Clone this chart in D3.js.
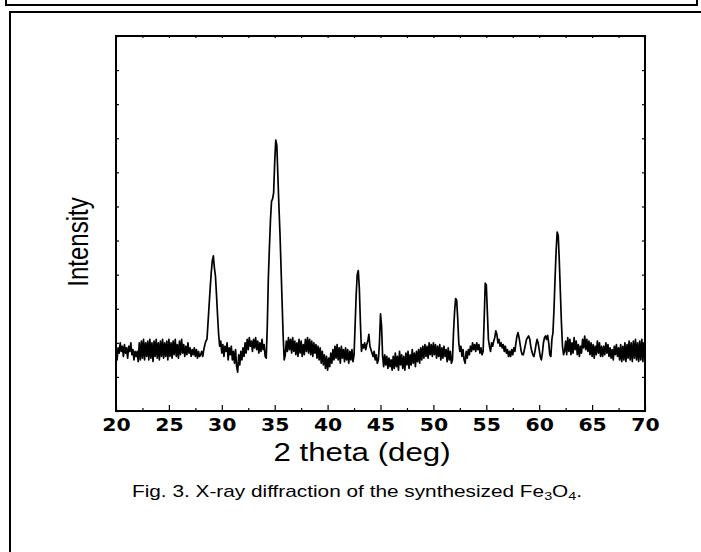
<!DOCTYPE html>
<html>
<head>
<meta charset="utf-8">
<script src="https://d3js.org/d3.v7.min.js"></script>
<style>
  body { margin: 0; background: #fff; }
  svg text { fill: #000; }
</style>
</head>
<body>
<div id="chartDiv"></div>
<script>

// scan: start angle, step, counts (one row per degree)
var startAngle = 20.0,
    stepAngle = 0.1;

var counts = [
  165,150,185,170,200,175,190,160,195,170,  // 20
  185,155,190,175,200,165,180,150,175,160,  // 21
  175,145,200,150,205,155,210,150,200,160,  // 22
  205,150,210,155,200,145,205,160,210,155,  // 23
  200,150,205,160,210,155,200,160,205,150,  // 24
  210,160,200,155,205,165,210,160,195,155,  // 25
  205,165,210,170,195,160,190,165,200,170,  // 26
  185,160,180,165,185,160,180,155,175,160,  // 27
  165,175,160,180,195,205,211,260,310,360,  // 28
  405,440,455,420,396,340,280,225,190,205,  // 29
  170,195,160,190,175,200,150,185,165,190,  // 30
  150,175,140,180,130,114,165,135,175,150,  // 31
  185,160,200,170,210,180,215,190,205,175,  // 32
  210,185,215,180,205,170,200,175,210,180,  // 33
  195,160,155,250,390,480,560,615,622,640,  // 34
  730,795,780,690,600,520,420,320,220,150,  // 35
  165,205,175,215,180,210,170,215,175,205,  // 36
  165,200,160,210,170,205,160,195,165,210,  // 37
  175,215,170,210,165,205,160,200,170,195,  // 38
  155,190,150,185,140,175,135,165,125,160,  // 39
  120,155,130,170,140,180,150,190,155,195,  // 40
  150,185,140,190,155,180,145,185,150,180,  // 41
  140,175,150,180,145,165,250,340,400,412,  // 42
  360,260,175,195,185,200,180,195,205,225,  // 43
  190,180,170,160,175,150,165,140,150,200,  // 44
  285,250,160,130,165,135,160,125,155,130,  // 45
  150,120,160,125,170,130,160,120,175,135,  // 46
  165,125,160,120,170,135,175,125,165,135,  // 47
  180,140,170,130,175,145,180,140,185,150,  // 48
  190,155,195,160,190,155,200,165,195,160,  // 49
  200,165,195,155,190,160,195,150,185,155,  // 50
  190,160,180,145,185,150,175,140,150,230,  // 51
  290,330,325,270,200,175,190,160,180,150,  // 52
  140,175,155,180,165,190,175,200,180,195,  // 53
  175,200,180,195,170,185,165,175,270,375,  // 54
  370,290,210,190,175,200,190,205,215,235,  // 55
  225,200,210,190,200,185,195,175,190,170,  // 56
  180,160,175,160,180,165,185,175,200,220,  // 57
  230,215,195,175,165,165,180,195,210,215,  // 58
  220,212,190,175,165,160,175,195,210,200,  // 59
  180,160,150,170,200,215,220,210,222,200,  // 60
  165,160,210,230,300,390,470,525,515,440,  // 61
  350,260,190,165,175,205,165,215,175,210,  // 62
  165,200,170,215,180,205,165,195,160,190,  // 63
  170,210,185,220,180,210,175,205,165,200,  // 64
  160,195,155,190,165,205,170,200,160,190,  // 65
  160,190,165,200,170,195,160,185,155,180,  // 66
  150,190,165,195,160,185,150,195,145,190,  // 67
  150,200,145,195,155,205,150,200,145,205,  // 68
  155,210,150,200,145,205,150,210,145,200,  // 69
  165                                       // 70
];

var majorTicks = [20, 25, 30, 35, 40, 45, 50, 55, 60, 65, 70];
var minorTicks = [22.5, 27.5, 32.5, 37.5, 42.5, 47.5, 52.5, 57.5, 62.5, 67.5];
var intensityTicks = [0, 100, 200, 300, 400, 500, 600, 700, 800, 900, 1000, 1100];

var xTitle = "2 theta (deg)",
    yTitle = "Intensity";

var width = 701,
    height = 552;

var svg = d3.select('#chartDiv').append('svg')
  .attr('width', width)
  .attr('height', height);

// page frames
svg.append('path')
  .attr('d', 'M6,0V5H697V0')
  .attr('fill', 'none')
  .attr('stroke', '#000')
  .attr('stroke-width', 2);

svg.append('path')
  .attr('d', 'M10,560V12H705')
  .attr('fill', 'none')
  .attr('stroke', '#000')
  .attr('stroke-width', 2);

var x = d3.scaleLinear().domain([20, 70]).range([116, 645]);
var y = d3.scaleLinear().domain([0, 1100]).range([411, 36]);

// bottom axis with labels, ticks pointing in
var bottom = svg.append('g')
  .attr('transform', 'translate(0,411)')
  .call(d3.axisBottom(x).tickValues(majorTicks).tickSizeInner(-6).tickSizeOuter(0)
    .tickPadding(8).tickFormat(d3.format('d')));

bottom.selectAll('text')
  .attr('transform', 'scale(1.2,1)')
  .style('font-family', '"DejaVu Sans", sans-serif')
  .style('font-weight', 'bold')
  .style('font-size', '17px');

svg.append('g')
  .attr('transform', 'translate(0,411)')
  .call(d3.axisBottom(x).tickValues(minorTicks).tickSizeInner(-3).tickSizeOuter(0).tickFormat(''));

svg.append('g')
  .attr('transform', 'translate(0,36)')
  .call(d3.axisTop(x).tickValues(majorTicks.concat(minorTicks)).tickSizeInner(-2).tickSizeOuter(0).tickFormat(''));

svg.append('g')
  .attr('transform', 'translate(116,0)')
  .call(d3.axisLeft(y).tickValues(intensityTicks).tickSizeInner(-3).tickSizeOuter(0).tickFormat(''));

svg.append('g')
  .attr('transform', 'translate(645,0)')
  .call(d3.axisRight(y).tickValues(intensityTicks).tickSizeInner(-3).tickSizeOuter(0).tickFormat(''));

svg.selectAll('.domain').remove();
svg.selectAll('.tick line').attr('stroke', '#000').attr('stroke-width', 1.2);

// plot frame
svg.append('rect')
  .attr('x', x(20))
  .attr('y', y(1100))
  .attr('width', x(70) - x(20))
  .attr('height', y(0) - y(1100))
  .attr('fill', 'none')
  .attr('stroke', '#000')
  .attr('stroke-width', 2);

// the pattern
var line = d3.line()
  .x(function(d, i) { return x(startAngle + i * stepAngle); })
  .y(function(d) { return y(d); });

svg.append('path')
  .datum(counts)
  .attr('d', line)
  .attr('fill', 'none')
  .attr('stroke', '#000')
  .attr('stroke-width', 1.7)
  .attr('stroke-linejoin', 'round');

// titles
svg.append('text')
  .attr('transform', 'translate(362,461) scale(1.25,1)')
  .attr('text-anchor', 'middle')
  .style('font-family', '"Liberation Sans", Arial, sans-serif')
  .style('font-size', '25px')
  .text(xTitle);

svg.append('text')
  .attr('transform', 'translate(88,242) scale(1.2,1) rotate(-90)')
  .attr('text-anchor', 'middle')
  .style('font-family', '"Liberation Sans", Arial, sans-serif')
  .style('font-size', '24px')
  .text(yTitle);

// caption
var cap = svg.append('text')
  .attr('transform', 'translate(357,497) scale(1.3,1)')
  .attr('text-anchor', 'middle')
  .style('font-family', '"Liberation Sans", Arial, sans-serif')
  .style('font-size', '16px');

cap.append('tspan').text('Fig. 3. X-ray diffraction of the synthesized Fe');
cap.append('tspan').attr('dy', 3).style('font-size', '11px').text('3');
cap.append('tspan').attr('dy', -3).text('O');
cap.append('tspan').attr('dy', 3).style('font-size', '11px').text('4');
cap.append('tspan').attr('dy', -3).text('.');

</script>
</body>
</html>
